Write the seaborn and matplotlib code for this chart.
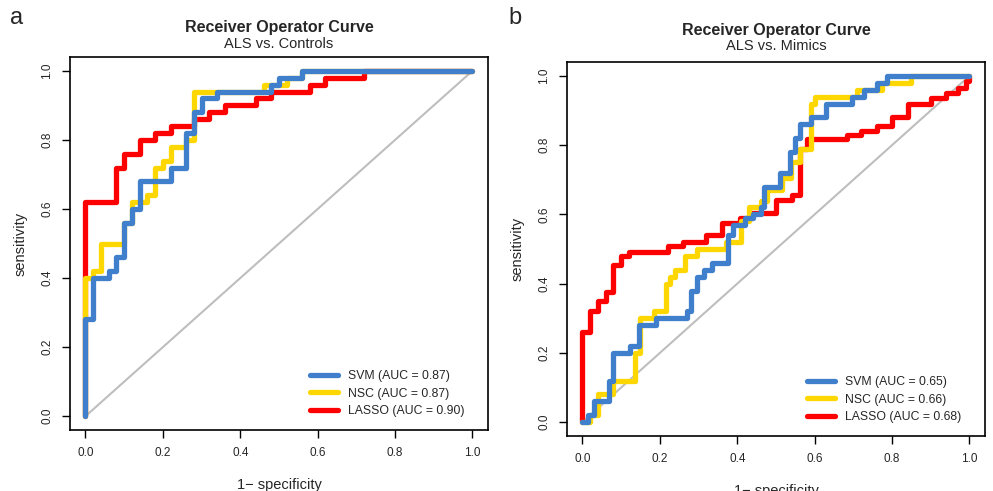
import numpy as np
import pandas as pd
import seaborn as sns
import matplotlib.pyplot as plt
from matplotlib.lines import Line2D

# ROC corner points (1 - specificity, sensitivity)
# panel a: ALS vs. Controls
a_svm_fpr = [0, 0, 0.02, 0.02, 0.06, 0.06, 0.08, 0.08, 0.10, 0.10, 0.12, 0.12, 0.14, 0.14,
             0.22, 0.22, 0.26, 0.26, 0.28, 0.28, 0.30, 0.30, 0.34, 0.34, 0.48, 0.48, 0.50,
             0.50, 0.56, 0.56, 1.0]
a_svm_tpr = [0, 0.28, 0.28, 0.40, 0.40, 0.42, 0.42, 0.46, 0.46, 0.56, 0.56, 0.60, 0.60, 0.68,
             0.68, 0.72, 0.72, 0.82, 0.82, 0.88, 0.88, 0.92, 0.92, 0.94, 0.94, 0.96, 0.96,
             0.98, 0.98, 1.0, 1.0]
a_nsc_fpr = [0, 0, 0.02, 0.02, 0.04, 0.04, 0.10, 0.10, 0.12, 0.12, 0.16, 0.16, 0.18, 0.18,
             0.20, 0.20, 0.22, 0.22, 0.26, 0.26, 0.28, 0.28, 0.46, 0.46, 0.52, 0.52, 0.56,
             0.56, 1.0]
a_nsc_tpr = [0, 0.40, 0.40, 0.42, 0.42, 0.50, 0.50, 0.56, 0.56, 0.62, 0.62, 0.64, 0.64, 0.72,
             0.72, 0.74, 0.74, 0.78, 0.78, 0.80, 0.80, 0.94, 0.94, 0.96, 0.96, 0.98, 0.98,
             1.0, 1.0]
a_lasso_fpr = [0, 0, 0.08, 0.08, 0.10, 0.10, 0.14, 0.14, 0.18, 0.18, 0.22, 0.22, 0.28, 0.28,
               0.32, 0.32, 0.36, 0.36, 0.44, 0.44, 0.48, 0.48, 0.58, 0.58, 0.62, 0.62, 0.72,
               0.72, 1.0]
a_lasso_tpr = [0, 0.62, 0.62, 0.72, 0.72, 0.76, 0.76, 0.80, 0.80, 0.82, 0.82, 0.84, 0.84, 0.86,
               0.86, 0.88, 0.88, 0.90, 0.90, 0.92, 0.92, 0.94, 0.94, 0.96, 0.96, 0.98, 0.98,
               1.0, 1.0]

# panel b: ALS vs. Mimics
b_svm_fpr = [0, 0.015, 0.015, 0.03, 0.03, 0.068, 0.068, 0.08, 0.08, 0.124, 0.124, 0.147,
             0.147, 0.19, 0.19, 0.27, 0.27, 0.28, 0.28, 0.295, 0.295, 0.313, 0.313, 0.335,
             0.335, 0.376, 0.376, 0.39, 0.39, 0.42, 0.42, 0.44, 0.44, 0.46, 0.46, 0.468,
             0.468, 0.51, 0.51, 0.535, 0.535, 0.55, 0.55, 0.563, 0.563, 0.59, 0.59, 0.628,
             0.628, 0.697, 0.697, 0.727, 0.727, 0.76, 0.76, 0.787, 0.787, 1.0]
b_svm_tpr = [0, 0, 0.02, 0.02, 0.06, 0.06, 0.12, 0.12, 0.20, 0.20, 0.22, 0.22, 0.28, 0.28,
             0.30, 0.30, 0.32, 0.32, 0.38, 0.38, 0.42, 0.42, 0.44, 0.44, 0.46, 0.46, 0.54,
             0.54, 0.57, 0.57, 0.59, 0.59, 0.60, 0.60, 0.62, 0.62, 0.68, 0.68, 0.72, 0.72,
             0.78, 0.78, 0.82, 0.82, 0.86, 0.86, 0.88, 0.88, 0.92, 0.92, 0.94, 0.94, 0.96,
             0.96, 0.98, 0.98, 1.0, 1.0]
b_nsc_fpr = [0, 0.02, 0.02, 0.04, 0.04, 0.08, 0.08, 0.135, 0.135, 0.148, 0.148, 0.185,
             0.185, 0.215, 0.215, 0.227, 0.227, 0.24, 0.24, 0.265, 0.265, 0.296, 0.296, 0.37,
             0.37, 0.41, 0.41, 0.43, 0.43, 0.46, 0.46, 0.477, 0.477, 0.516, 0.516, 0.54, 0.54,
             0.563, 0.563, 0.59, 0.59, 0.60, 0.60, 0.71, 0.71, 0.775, 0.775, 0.848, 0.848, 1.0]
b_nsc_tpr = [0, 0, 0.02, 0.02, 0.08, 0.08, 0.12, 0.12, 0.20, 0.20, 0.30, 0.30, 0.32, 0.32,
             0.40, 0.40, 0.42, 0.42, 0.44, 0.44, 0.48, 0.48, 0.50, 0.50, 0.52, 0.52, 0.58,
             0.58, 0.62, 0.62, 0.64, 0.64, 0.67, 0.67, 0.706, 0.706, 0.75, 0.75, 0.79, 0.79,
             0.92, 0.92, 0.94, 0.94, 0.96, 0.96, 0.98, 0.98, 1.0, 1.0]
b_lasso_fpr = [0, 0, 0.02, 0.02, 0.04, 0.04, 0.06, 0.06, 0.08, 0.08, 0.10, 0.10, 0.12, 0.12,
               0.22, 0.22, 0.26, 0.26, 0.32, 0.32, 0.36, 0.36, 0.408, 0.408, 0.438, 0.438,
               0.50, 0.50, 0.542, 0.542, 0.563, 0.563, 0.58, 0.58, 0.684, 0.684, 0.72, 0.72,
               0.76, 0.76, 0.80, 0.80, 0.84, 0.84, 0.90, 0.90, 0.94, 0.94, 0.97, 0.97, 0.99,
               0.99, 1.0, 1.0]
b_lasso_tpr = [0, 0.26, 0.26, 0.32, 0.32, 0.35, 0.35, 0.375, 0.375, 0.455, 0.455, 0.48, 0.48,
               0.492, 0.492, 0.51, 0.51, 0.52, 0.52, 0.54, 0.54, 0.575, 0.575, 0.59, 0.59,
               0.604, 0.604, 0.642, 0.642, 0.657, 0.657, 0.79, 0.79, 0.817, 0.817, 0.83, 0.83,
               0.84, 0.84, 0.855, 0.855, 0.88, 0.88, 0.92, 0.92, 0.935, 0.935, 0.95, 0.95,
               0.965, 0.965, 0.985, 0.985, 1.0]

models = ["SVM", "NSC", "LASSO"]
auc_a = [0.87, 0.87, 0.90]
auc_b = [0.65, 0.66, 0.68]
colors = {"SVM": "#3F7FCC", "NSC": "#FFD700", "LASSO": "#FF0000"}
chance = [0, 1]
ticks = [0.0, 0.2, 0.4, 0.6, 0.8, 1.0]
tick_labels = ["0.0", "0.2", "0.4", "0.6", "0.8", "1.0"]

sns.set_theme(style="ticks")
plt.rcParams["font.family"] = ["Liberation Sans", "DejaVu Sans"]

fig = plt.figure(figsize=(9.93, 4.91), dpi=100)
ax_a = fig.add_axes([0.0705, 0.1242, 0.4209, 0.7597])
ax_b = fig.add_axes([0.5710, 0.1120, 0.4209, 0.7617])


def draw_panel(ax, curves, aucs, subtitle, letter, letter_x, title_y):
    sns.lineplot(x=chance, y=chance, ax=ax, color="#BEBEBE", linewidth=1.5)
    # LASSO first so SVM ends up on top
    for m in ["LASSO", "NSC", "SVM"]:
        fpr, tpr = curves[m]
        df = pd.DataFrame({"fpr": fpr, "tpr": tpr})
        sns.lineplot(data=df, x="fpr", y="tpr", ax=ax, sort=False, estimator=None,
                     color=colors[m], linewidth=3.8,
                     solid_capstyle="round", solid_joinstyle="round")
    ax.set_xlim(-0.04, 1.04)
    ax.set_ylim(-0.04, 1.04)
    ax.set_xticks(ticks)
    ax.set_xticklabels(tick_labels)
    ax.set_yticks(ticks)
    ax.set_yticklabels(tick_labels, rotation=90, va="center")
    ax.tick_params(length=6, width=1, labelsize=8.5, pad=6, color="black")
    ax.set_xlabel("1\u2212 specificity", fontsize=10.5, labelpad=14)
    ax.set_ylabel("sensitivity", fontsize=10.5, labelpad=10)
    for s in ax.spines.values():
        s.set_visible(True)
        s.set_linewidth(1.2)
        s.set_color("black")
    handles = [Line2D([], [], color=colors[m], linewidth=3.8, solid_capstyle="round")
               for m in models]
    labels = [f"{m} (AUC = {a:.2f})" for m, a in zip(models, aucs)]
    ax.legend(handles, labels, loc="lower right", bbox_to_anchor=(0.97, 0.005),
              frameon=False, fontsize=8.8, handlelength=2.3, handletextpad=0.8,
              labelspacing=0.45)
    pos = ax.get_position()
    cx = (pos.x0 + pos.x1) / 2
    fig.text(cx, title_y, "Receiver Operator Curve", ha="center", va="center",
             fontsize=11.5, fontweight="bold")
    fig.text(cx, title_y - 0.032, subtitle, ha="center", va="center", fontsize=10.5)
    fig.text(letter_x, 0.963, letter, ha="left", va="center", fontsize=17)


draw_panel(ax_a,
           {"SVM": (a_svm_fpr, a_svm_tpr), "NSC": (a_nsc_fpr, a_nsc_tpr),
            "LASSO": (a_lasso_fpr, a_lasso_tpr)},
           auc_a, "ALS vs. Controls", "a", 0.010, 0.943)
draw_panel(ax_b,
           {"SVM": (b_svm_fpr, b_svm_tpr), "NSC": (b_nsc_fpr, b_nsc_tpr),
            "LASSO": (b_lasso_fpr, b_lasso_tpr)},
           auc_b, "ALS vs. Mimics", "b", 0.512, 0.938)

fig.savefig("out.png", dpi=100)
